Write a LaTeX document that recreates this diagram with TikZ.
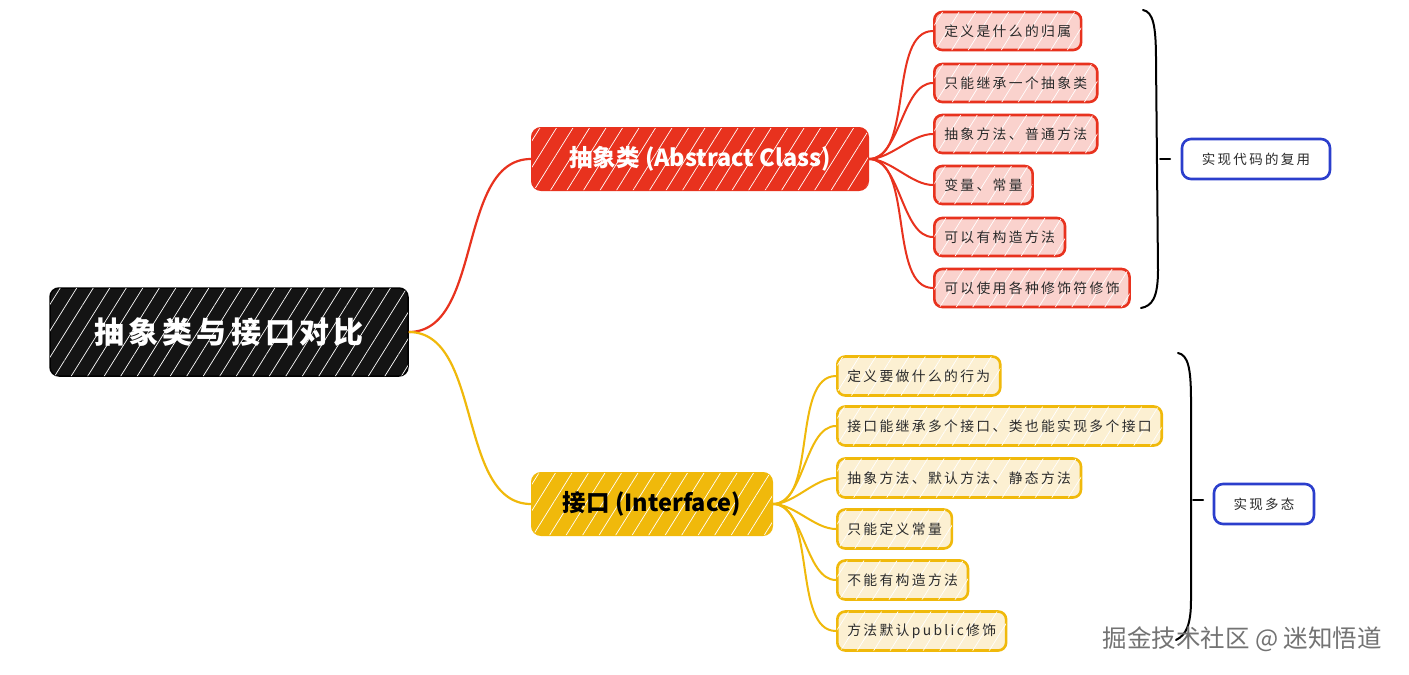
\documentclass[tikz,border=0pt]{standalone}
\usepackage{fontspec}
\setmainfont{Noto Sans CJK SC}
\newfontfamily\cjk[LetterSpace=17]{Noto Sans CJK SC}
\newfontfamily\cjkroot[LetterSpace=14]{Noto Sans CJK SC}
\usetikzlibrary{patterns.meta}
\definecolor{cred}{HTML}{E8321E}
\definecolor{cpink}{HTML}{FAD2CD}
\definecolor{cyel}{HTML}{F0B90B}
\definecolor{clyel}{HTML}{FCF0D2}
\definecolor{cblue}{HTML}{2B3ECC}
\definecolor{ctext}{HTML}{2A2A2A}
\tikzset{
  hatch/.style={postaction={pattern={Lines[angle=58,distance=14pt,line width=0.7pt]},pattern color=white,fill opacity=#1}},
  rootbox/.style={rectangle,rounded corners=9pt,fill=black!92,draw=black,line width=1.5pt,hatch=0.55,
    text=white,font=\cjkroot\bfseries\fontsize{30}{34}\selectfont,minimum width=358pt,minimum height=88pt},
  mainred/.style={rectangle,rounded corners=9pt,fill=cred,draw=cred,line width=2pt,hatch=0.45,
    text=white,font=\bfseries\fontsize{23.5}{27}\selectfont,minimum height=62pt},
  mainyel/.style={rectangle,rounded corners=9pt,fill=cyel,draw=cyel,line width=2pt,hatch=0.45,
    text=black,font=\bfseries\fontsize{23.5}{27}\selectfont,minimum height=62pt},
  rchild/.style={rectangle,rounded corners=8pt,fill=cpink,draw=cred,line width=2.6pt,hatch=0.35,
    text=ctext,font=\cjk\fontsize{13.8}{16}\selectfont,anchor=west,minimum height=38pt,inner xsep=10pt},
  ychild/.style={rectangle,rounded corners=8pt,fill=clyel,draw=cyel,line width=2.6pt,hatch=0.4,
    text=ctext,font=\cjk\fontsize{13.8}{16}\selectfont,anchor=west,minimum height=39pt,inner xsep=10pt},
  sumbox/.style={rectangle,rounded corners=9pt,fill=white,draw=cblue,line width=2.6pt,
    text=ctext,font=\cjk\fontsize{13.5}{16}\selectfont,minimum height=40pt},
  redline/.style={draw=cred,line width=2.2pt},
  yelline/.style={draw=cyel,line width=2.2pt},
  bracel/.style={draw=black,line width=2pt,line cap=round},
}
\begin{document}
\begin{tikzpicture}[x=1pt,y=-1pt]
\useasboundingbox[fill=white] (0,0) rectangle (1409,675);

% main nodes
\node[rootbox] (root) at (229,332) {抽象类与接口对比};
\node[mainred,minimum width=336pt] (ac) at (700,159) {抽象类 (Abstract Class)};
\node[mainyel,minimum width=240pt] (itf) at (652,504) {接口 (Interface)};

% abstract class children
\node[rchild] (a1) at (933,31) {定义是什么的归属};
\node[rchild] (a2) at (933,83) {只能继承一个抽象类};
\node[rchild] (a3) at (933,134) {抽象方法、普通方法};
\node[rchild] (a4) at (933,185) {变量、常量};
\node[rchild] (a5) at (933,237) {可以有构造方法};
\node[rchild] (a6) at (933,288) {可以使用各种修饰符修饰};

% interface children
\node[ychild] (i1) at (836,376) {定义要做什么的行为};
\node[ychild] (i2) at (836,426) {接口能继承多个接口、类也能实现多个接口};
\node[ychild] (i3) at (836,478) {抽象方法、默认方法、静态方法};
\node[ychild] (i4) at (836,529) {只能定义常量};
\node[ychild] (i5) at (836,580) {不能有构造方法};
\node[ychild] (i6) at (836,631) {方法默认public修饰};

% summary boxes
\node[sumbox,minimum width=148pt] (sa) at (1256,159) {实现代码的复用};
\node[sumbox,minimum width=100pt] (sb) at (1264,504) {实现多态};

% connectors
\draw[redline] (root.east) to[out=0,in=180,looseness=0.9] (ac.west);
\draw[yelline] (root.east) to[out=0,in=180,looseness=0.9] (itf.west);
\foreach \i in {1,...,6}{
  \draw[redline,line width=2pt] (ac.east) to[out=0,in=180,looseness=0.8] (a\i.west);
  \draw[yelline,line width=2pt] (itf.east) to[out=0,in=180,looseness=0.8] (i\i.west);
}

% braces
\coordinate (bta) at (1160,159);
\coordinate (btb) at (1193,500);
\draw[bracel] (1143,10) .. controls (1153,12) and (1156,25) .. (1156,60)
  -- (1158,270) .. controls (1158,298) and (1152,306) .. (1141,308);
\draw[bracel] (bta) -- +(10,0);
\draw[bracel] (1178,353) .. controls (1188,355) and (1191,368) .. (1191,400)
  -- (1191,600) .. controls (1191,625) and (1186,635) .. (1176,640);
\draw[bracel] (btb) -- +(10,0);

% watermark
\node[text=black!55,font=\fontsize{24.5}{28}\selectfont,anchor=west] (wm) at (1099,639) {掘金技术社区 @ 迷知悟道};
\end{tikzpicture}
\end{document}
